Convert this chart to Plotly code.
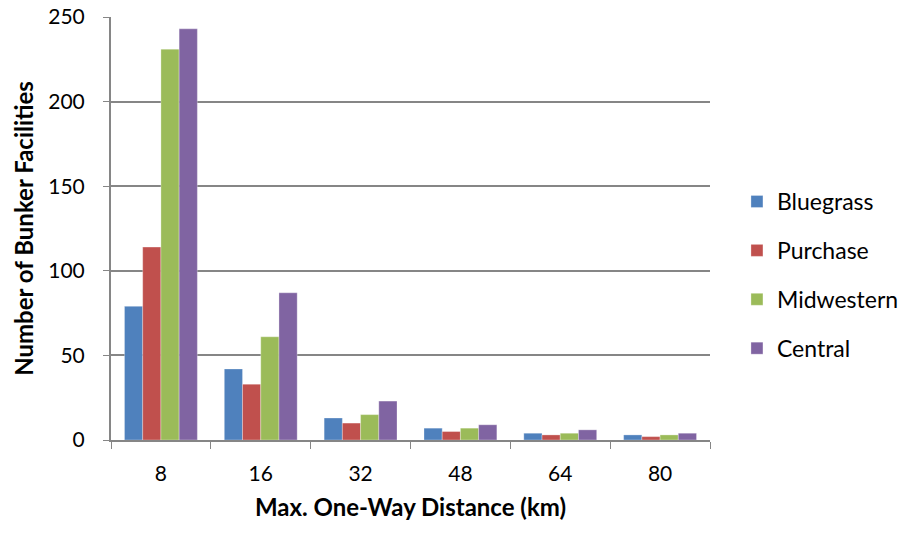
import plotly.graph_objects as go

categories = ["8", "16", "32", "48", "64", "80"]
bluegrass = [79, 42, 13, 7, 4, 3]
purchase = [114, 33, 10, 5, 3, 2]
midwestern = [231, 61, 15, 7, 4, 3]
central = [243, 87, 23, 9, 6, 4]
series_names = ["Bluegrass", "Purchase", "Midwestern", "Central"]
colors = ["#4F81BD", "#C0504D", "#9BBB59", "#8064A2"]

FONT = "Lato"
fig = go.Figure()
for i, (name, vals) in enumerate(zip(series_names, [bluegrass, purchase, midwestern, central])):
    fig.add_trace(go.Bar(
        x=categories, y=vals, name=name,
        marker=dict(color=colors[i], line=dict(color="rgba(255,255,255,0.6)", width=0.5)),
        legendgroup=name,
    ))

fig.update_layout(
    width=912, height=533,
    margin=dict(l=111, r=202, t=17, b=93, autoexpand=False),
    paper_bgcolor="white", plot_bgcolor="white",
    barmode="group", bargap=0.27, bargroupgap=0,
    font=dict(family=FONT, size=20, color="#000000"),
    legend=dict(x=1.045, xanchor="left", y=0.39, yanchor="middle",
                font=dict(family=FONT, size=23), tracegroupgap=16,
                itemwidth=30),
    xaxis=dict(
        type="category", tickson="boundaries", ticks="outside", ticklen=7,
        tickcolor="#868686", showline=True, linecolor="#868686", linewidth=2,
        showgrid=False, ticklabelstandoff=14,
        title=dict(text="<b>Max. One-Way Distance (km)</b>", font=dict(family=FONT, size=24), standoff=15),
        tickfont=dict(family=FONT, size=21),
    ),
    yaxis=dict(
        range=[0, 250], tickvals=[0, 50, 100, 150, 200, 250],
        ticks="outside", ticklen=6, tickcolor="#868686",
        showline=True, linecolor="#868686", linewidth=2,
        showgrid=True, gridcolor="#868686", gridwidth=1.5,
        zeroline=False, ticklabelstandoff=14,
        title=dict(text="<b>Number of Bunker Facilities</b>", font=dict(family=FONT, size=24), standoff=8),
        tickfont=dict(family=FONT, size=21),
    ),
)
fig.write_html("out.html", config={"displayModeBar": False},
               post_script="document.body.style.margin='0';")
